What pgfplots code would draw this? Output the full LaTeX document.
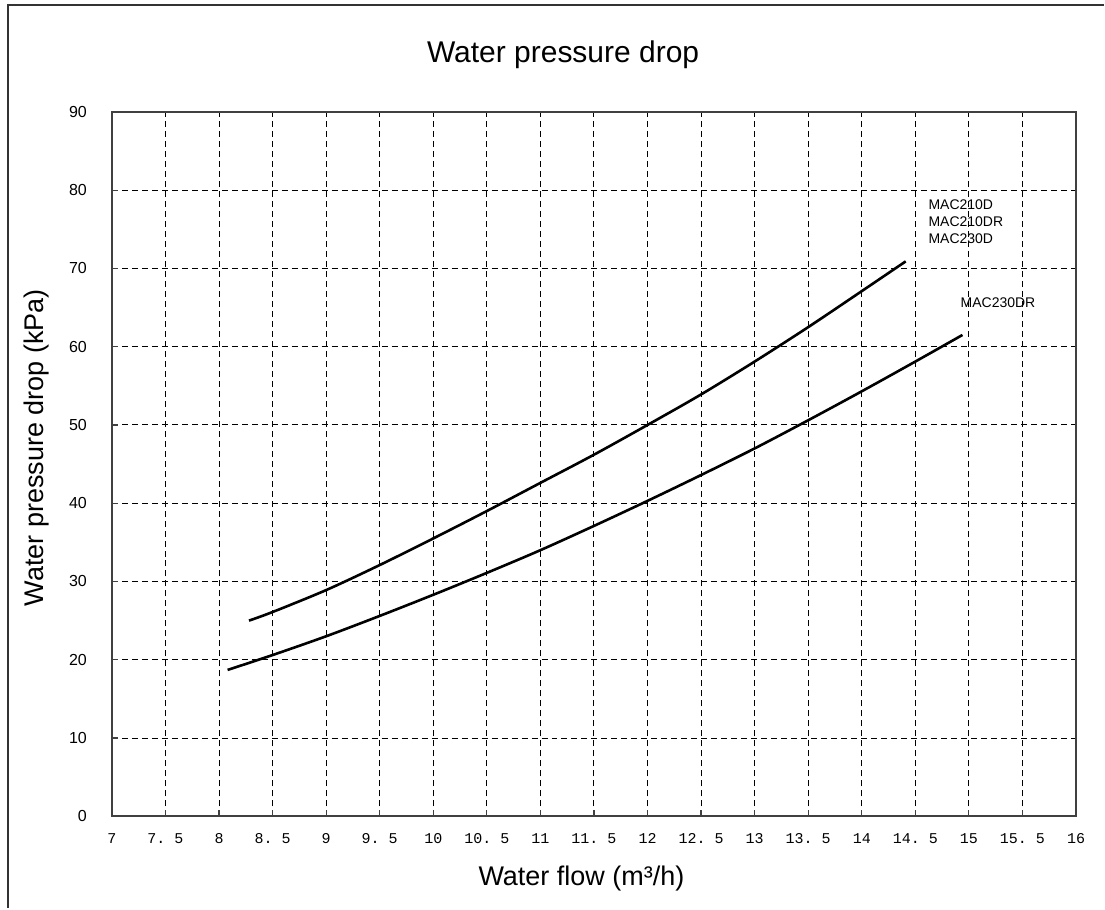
\documentclass[border=0pt]{standalone}
\usepackage{fontspec}
\setmainfont{Liberation Sans}
\setmonofont{Liberation Mono}
\usepackage{pgfplots}
\pgfplotsset{compat=1.18}
\begin{document}
\begin{tikzpicture}
\begin{axis}[
  scale only axis, width=482.5pt, height=352.5pt,
  xmin=7, xmax=16, ymin=0, ymax=90,
  /pgf/number format/assume math mode=true,
  xtick={7,7.5,8,8.5,9,9.5,10,10.5,11,11.5,12,12.5,13,13.5,14,14.5,15,15.5,16},
  xticklabels={7,7. 5,8,8. 5,9,9. 5,10,10. 5,11,11. 5,12,12. 5,13,13. 5,14,14. 5,15,15. 5,16},
  ytick={0,10,...,90},
  grid=major,
  major grid style={black, line width=0.5pt, dash pattern=on 3pt off 2pt},
  axis line style={black!75, line width=0.8pt},
  tick style={black!75, line width=0.6pt},
  major tick length=3pt,
  tick pos=left,
  xticklabel style={font=\ttfamily\fontsize{7.5}{9}\selectfont, yshift=-5pt},
  yticklabel style={font=\fontsize{8}{10}\selectfont, xshift=-9pt},
  title={Water pressure drop},
  title style={font=\fontsize{15}{18}\selectfont, at={(axis description cs:0.468,1)}, anchor=center, yshift=22.5pt},
  xlabel={Water flow (m³/h)},
  xlabel style={font=\fontsize{13.5}{16}\selectfont, at={(axis description cs:0.487,0)}, anchor=center, yshift=-31pt},
  ylabel={Water pressure drop (kPa)},
  ylabel style={font=\fontsize{13.5}{16}\selectfont, at={(axis description cs:-0.0777,0.523)}, anchor=center},
  clip=false,
]
\addplot[black, line width=1.3pt, smooth] coordinates {
(8.28,25.0) (8.5,26.1) (9,28.9) (9.5,32.1) (10,35.5) (10.5,39.0) (11,42.6) (11.5,46.2) (12,50.0) (12.5,53.9) (13,58.1) (13.5,62.5) (14,67.1) (14.41,70.9)
};
\addplot[black, line width=1.3pt, smooth] coordinates {
(8.08,18.7) (8.5,20.6) (9,23.0) (9.5,25.6) (10,28.3) (10.5,31.1) (11,34.0) (11.5,37.1) (12,40.3) (12.5,43.6) (13,47.0) (13.5,50.6) (14,54.3) (14.5,58.1) (14.94,61.5)
};
\node[anchor=west, inner sep=0pt, align=left, font=\fontsize{7}{8.5}\selectfont] at (axis cs:14.62,76.0) {MAC210D\\MAC210DR\\MAC230D};
\node[anchor=west, inner sep=0pt, font=\fontsize{7}{8.5}\selectfont] at (axis cs:14.92,65.6) {MAC230DR};
\coordinate (BL) at (rel axis cs:-0.11606,-0.13050);
\coordinate (TR) at (rel axis cs:1.02902,1.15887);
\coordinate (FL) at (rel axis cs:-0.10777,1.15177);
\end{axis}
\pgfresetboundingbox
\path (BL) rectangle (TR);
\draw[black!80, line width=1pt] (FL |- BL) -- (FL) -- (FL -| TR);
\end{tikzpicture}
\end{document}
